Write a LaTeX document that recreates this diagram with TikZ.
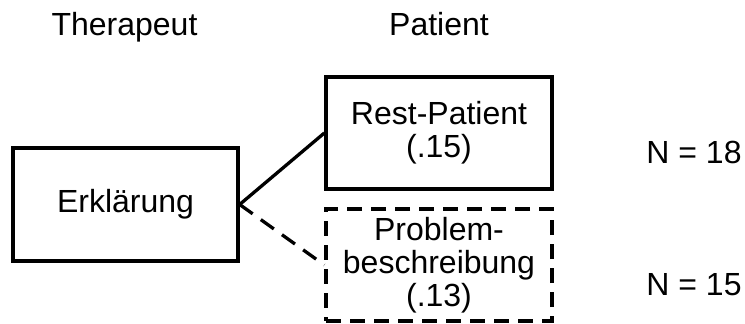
\documentclass[tikz,border=0pt]{standalone}
\usepackage{fontspec}
\setmainfont{Liberation Sans}
\begin{document}
\begin{tikzpicture}[x=1pt,y=-1pt,
  every node/.style={font=\fontsize{32}{33}\selectfont},
  boxstyle/.style={draw, line width=3.3pt, rectangle, minimum width=226pt, minimum height=112pt, inner sep=0pt, align=center},
  dashbox/.style={boxstyle, dash pattern=on 15pt off 9pt},
  lbl/.style={anchor=base, inner sep=0pt},
  conn/.style={line width=3.3pt}]
\useasboundingbox (0,0) rectangle (745,324);
\node[lbl] (ther) at (124.5,35) {Therapeut};
\node[lbl] (pat) at (439,35) {Patient};
\node[boxstyle, minimum width=225pt, minimum height=113pt] (erk) at (125.5,204.5) {Erklärung};
\node[boxstyle] (rest) at (439,133) {Rest-Patient\\(.15)};
\node[dashbox] (prob) at (439,265) {Problem-\\beschreibung\\(.13)};
\node[lbl] (n18) at (694,163) {N = 18};
\node[lbl] (n15) at (694,295) {N = 15};
\draw[conn] (erk.east) -- (rest.west);
\draw[conn, dash pattern=on 16pt off 10pt] (erk.east) -- (prob.west);
\end{tikzpicture}
\end{document}
